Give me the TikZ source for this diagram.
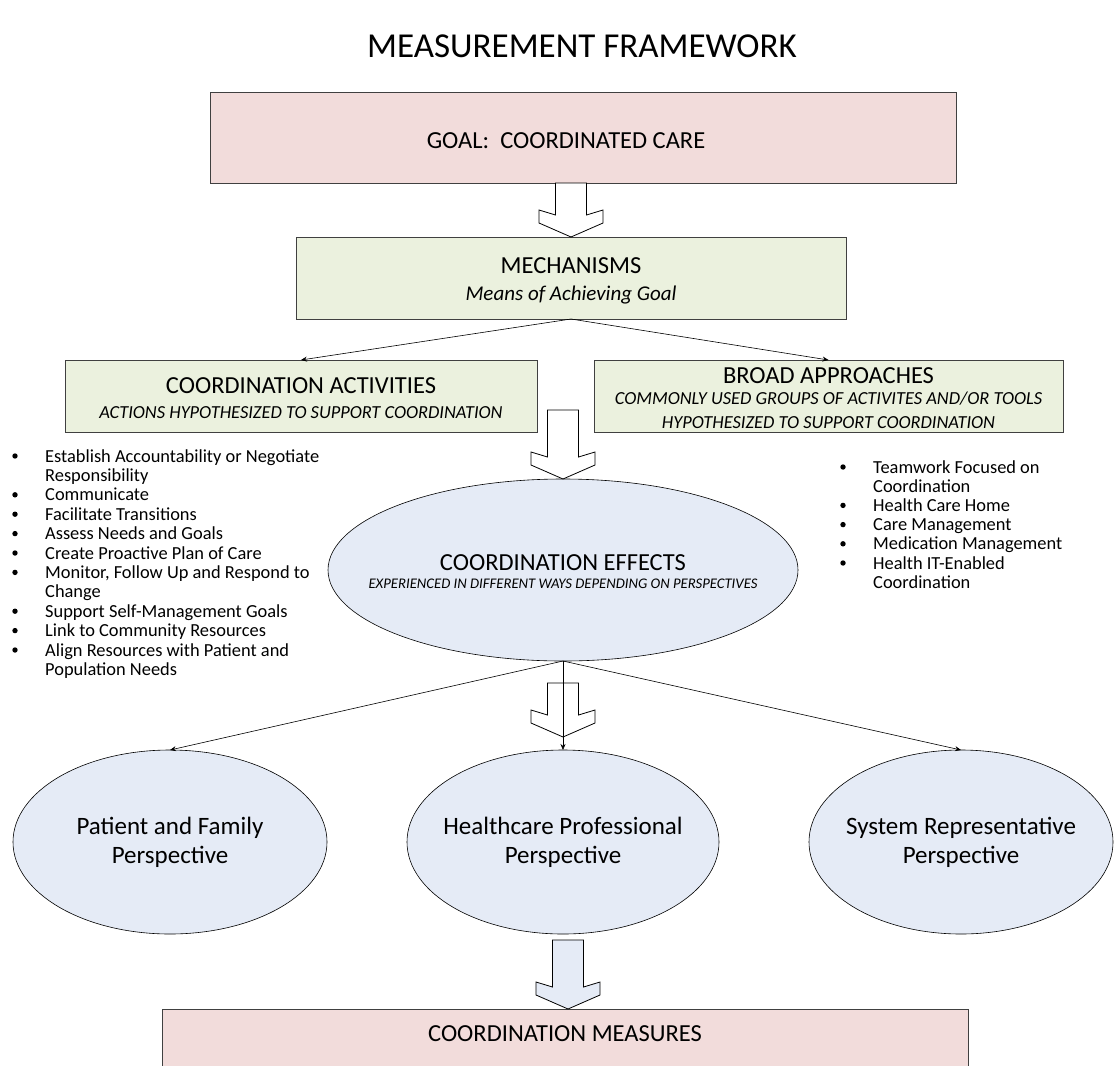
\documentclass[tikz,border=0pt]{standalone}
\usepackage{fontspec}
\setmainfont{Carlito}
\usetikzlibrary{arrows.meta,shapes.geometric,calc}
\definecolor{pinkfill}{HTML}{F2DCDB}
\definecolor{greenfill}{HTML}{EBF1DE}
\definecolor{bluefill}{HTML}{E5EBF6}
\newcommand\fatarrow[3]{%
  \filldraw[fat, fill=#3] let \p1=(#1), \p2=(#2) in
    (\x2-15.5pt,\y1) -- (\x2-15.5pt,\y2+22pt) -- (\x2-32pt,\y2+27pt) -- (\x2-32pt,\y2+14pt) --
    (\x2,\y2) -- (\x2+32pt,\y2+14pt) -- (\x2+32pt,\y2+27pt) -- (\x2+15.5pt,\y2+22pt) --
    (\x2+15.5pt,\y1) -- cycle;}
\begin{document}
\begin{tikzpicture}[x=1pt,y=-1pt,
  box/.style={draw=black!75, line width=0.9pt, inner sep=0pt, outer sep=0pt},
  oval/.style={ellipse, draw=black, line width=0.6pt, fill=bluefill, inner sep=0pt, outer sep=0pt},
  conn/.style={line width=0.6pt, -{Stealth[length=6pt,width=5pt]}},
  fat/.style={draw=black, line width=0.8pt, line join=miter},
  ttl/.style={font=\fontsize{24.5}{29}\selectfont, anchor=base, inner sep=0pt},
  subi/.style={font=\fontsize{18.4}{22}\selectfont\itshape, anchor=base, inner sep=0pt},
  item/.style={font=\fontsize{18.4}{22}\selectfont, anchor=base west, inner sep=0pt},
  dot/.style={circle, fill=black, inner sep=0pt, minimum size=5.4pt},
  persp/.style={font=\fontsize{25}{29}\selectfont, align=center, inner sep=0pt}
]
\useasboundingbox (0,0) rectangle (1115,1065);
\clip (0,0) rectangle (1115,1065);

% title
\node[font=\fontsize{35}{42}\selectfont, anchor=base, inner sep=0pt] (title) at (582,57.5) {MEASUREMENT FRAMEWORK};

% goal
\node[box, fill=pinkfill, minimum width=746pt, minimum height=91pt] (goal) at (583,137.5) {};
\node[ttl] (goalt) at (566,148) {GOAL:\ \ COORDINATED CARE};

% mechanisms
\node[box, fill=greenfill, minimum width=550pt, minimum height=82pt] (mech) at (571,278) {};
\node[ttl] (mecht) at (571,273) {MECHANISMS};
\node[font=\fontsize{21}{25}\selectfont\itshape, anchor=base, inner sep=0pt] (mechs) at (571,300) {Means of Achieving Goal};

% coordination activities
\node[box, fill=greenfill, minimum width=472pt, minimum height=72pt] (ca) at (301,396) {};
\node[ttl] (cat) at (301,393) {COORDINATION ACTIVITIES};
\node[subi] (cas) at (301,418) {ACTIONS HYPOTHESIZED TO SUPPORT COORDINATION};

% broad approaches
\node[box, fill=greenfill, minimum width=469pt, minimum height=72pt] (ba) at (828.5,396) {};
\node[ttl] (bat) at (828.5,383) {BROAD APPROACHES};
\node[subi] (bas1) at (828.5,404) {COMMONLY USED GROUPS OF ACTIVITES AND/OR TOOLS};
\node[subi] (bas2) at (828.5,428) {HYPOTHESIZED TO SUPPORT COORDINATION};

% coordination effects
\node[oval, minimum width=470pt, minimum height=182pt] (ce) at (563,570) {};
\node[ttl] (cet) at (563,570) {COORDINATION EFFECTS};
\node[font=\fontsize{14.7}{18}\selectfont\itshape, anchor=base, inner sep=0pt] (ces) at (563,588) {EXPERIENCED IN DIFFERENT WAYS DEPENDING ON PERSPECTIVES};

% left list
\node[dot] (l1) at (15,456) {};   \node[item] (t1) at (45,462) {Establish Accountability or Negotiate};
                                   \node[item] (t2) at (45,481.4) {Responsibility};
\node[dot] (l3) at (15,494.8) {}; \node[item] (t3) at (45,500.8) {Communicate};
\node[dot] (l4) at (15,514.2) {}; \node[item] (t4) at (45,520.2) {Facilitate Transitions};
\node[dot] (l5) at (15,533.6) {}; \node[item] (t5) at (45,539.6) {Assess Needs and Goals};
\node[dot] (l6) at (15,553) {};   \node[item] (t6) at (45,559) {Create Proactive Plan of Care};
\node[dot] (l7) at (15,572.4) {}; \node[item] (t7) at (45,578.4) {Monitor, Follow Up and Respond to};
                                   \node[item] (t8) at (45,597.8) {Change};
\node[dot] (l9) at (15,611.2) {}; \node[item] (t9) at (45,617.2) {Support Self-Management Goals};
\node[dot] (l10) at (15,630.6) {};\node[item] (t10) at (45,636.6) {Link to Community Resources};
\node[dot] (l11) at (15,650) {};  \node[item] (t11) at (45,656) {Align Resources with Patient and};
                                   \node[item] (t12) at (45,675.4) {Population Needs};

% right list
\node[dot] (r1) at (843,467) {};   \node[item] (u1) at (873,473) {Teamwork Focused on};
                                    \node[item] (u2) at (873,492.2) {Coordination};
\node[dot] (r3) at (843,505.4) {}; \node[item] (u3) at (873,511.4) {Health Care Home};
\node[dot] (r4) at (843,524.6) {}; \node[item] (u4) at (873,530.6) {Care Management};
\node[dot] (r5) at (843,543.8) {}; \node[item] (u5) at (873,549.8) {Medication Management};
\node[dot] (r6) at (843,563) {};   \node[item] (u6) at (873,569) {Health IT-Enabled};
                                    \node[item] (u7) at (873,588.2) {Coordination};

% perspectives
\node[oval, minimum width=314pt, minimum height=184pt] (pf) at (170,842) {};
\node[persp] at (pf) {Patient and Family\\Perspective};
\node[oval, minimum width=312pt, minimum height=184pt] (hp) at (563,842) {};
\node[persp] at (hp) {Healthcare Professional\\Perspective};
\node[oval, minimum width=304pt, minimum height=184pt] (sr) at (961,842) {};
\node[persp] at (sr) {System Representative\\Perspective};

% measures
\node[box, fill=pinkfill, minimum width=806pt, minimum height=100pt] (meas) at (565,1059) {};
\node[ttl] (meast) at (565,1041) {COORDINATION MEASURES};

% block arrows
\coordinate (a1t) at (571,183);  \coordinate (a1h) at (mech.north);
\coordinate (a2t) at (563,410);  \coordinate (a2h) at (ce.north);
\coordinate (a3t) at (563,683);  \coordinate (a3h) at (563,737);
\coordinate (a4t) at (568,940);  \coordinate (a4h) at (568,1009);
\fatarrow{a1t}{a1h}{white}
\fatarrow{a2t}{a2h}{white}
\fatarrow{a3t}{a3h}{white}
\fatarrow{a4t}{a4h}{bluefill}

% connectors
\draw[conn] (mech.south) -- (ca.north);
\draw[conn] (mech.south) -- (ba.north);
\draw[conn] (ce.south) -- (pf.north);
\draw[conn] (ce.south) -- (hp.north);
\draw[conn] (ce.south) -- (sr.north);
\end{tikzpicture}
\end{document}
